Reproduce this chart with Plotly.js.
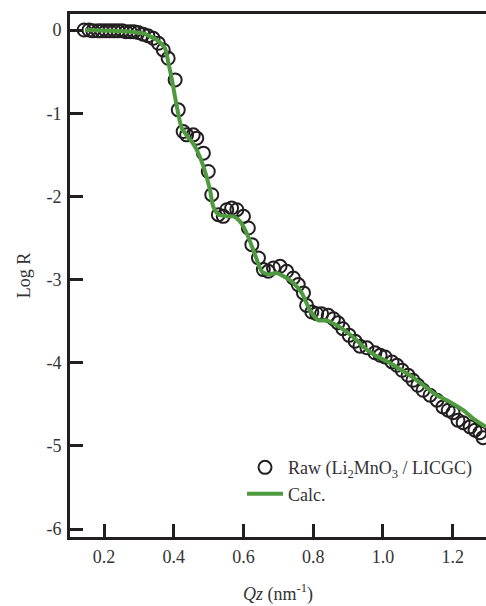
<!DOCTYPE html>
<html>
<head>
<meta charset="utf-8">
<script src="https://cdn.plot.ly/plotly-3.0.1.min.js"></script>
<style>html,body{margin:0;padding:0;background:#fff;}#chart{width:486px;height:606px;}</style>
</head>
<body>
<div id="chart"></div>
<script>
// Raw reflectivity data (Li2MnO3 / LICGC)
const rawQz = [0.143,0.157,0.168,0.183,0.194,0.206,0.217,0.229,0.240,0.252,0.263,0.275,0.286,0.298,0.312,0.326,
  0.341,0.356,0.370,0.384,0.404,0.413,0.427,0.437,0.456,0.466,0.485,0.499,0.509,0.528,0.542,0.552,0.566,0.581,
  0.600,0.614,0.624,0.643,0.657,0.671,0.686,0.705,0.724,0.743,0.757,0.772,0.781,0.796,0.810,0.824,0.843,0.858,
  0.871,0.885,0.903,0.920,0.934,0.954,0.977,0.992,1.006,1.026,1.040,1.055,1.072,1.086,1.100,1.115,1.135,1.155,
  1.172,1.187,1.201,1.215,1.230,1.250,1.264,1.278,1.287];
const rawLogR = [0.00,0.00,-0.01,-0.01,-0.01,-0.01,-0.01,-0.01,-0.01,-0.01,-0.02,-0.02,-0.02,-0.03,-0.05,-0.07,
  -0.10,-0.16,-0.24,-0.34,-0.60,-0.96,-1.22,-1.26,-1.26,-1.30,-1.48,-1.70,-1.98,-2.22,-2.24,-2.16,-2.14,-2.16,
  -2.24,-2.38,-2.58,-2.74,-2.88,-2.90,-2.86,-2.84,-2.90,-2.98,-3.06,-3.16,-3.31,-3.39,-3.41,-3.41,-3.43,-3.47,
  -3.52,-3.59,-3.67,-3.74,-3.80,-3.82,-3.88,-3.91,-3.93,-3.99,-4.03,-4.09,-4.15,-4.21,-4.27,-4.33,-4.39,-4.45,
  -4.53,-4.57,-4.60,-4.69,-4.72,-4.77,-4.81,-4.84,-4.90];

// Calculated curve
const calcQz = [0.146,0.275,0.313,0.351,0.375,0.384,0.394,0.408,0.423,0.451,0.466,0.485,0.504,0.513,0.528,0.552,
  0.571,0.590,0.609,0.633,0.652,0.671,0.695,0.719,0.743,0.767,0.791,0.815,0.839,0.867,0.896,0.925,0.944,0.977,
  1.006,1.039,1.077,1.116,1.154,1.192,1.230,1.259,1.295];
const calcLogR = [0.00,-0.02,-0.04,-0.12,-0.22,-0.38,-0.58,-0.90,-1.18,-1.34,-1.44,-1.64,-1.92,-2.12,-2.22,-2.24,
  -2.24,-2.30,-2.44,-2.70,-2.90,-2.94,-2.92,-2.97,-3.04,-3.16,-3.37,-3.49,-3.49,-3.55,-3.63,-3.73,-3.81,-3.91,
  -3.97,-4.05,-4.15,-4.27,-4.39,-4.47,-4.57,-4.67,-4.77];

const xTickVals = [0.2,0.4,0.6,0.8,1.0,1.2];
const xTickText = ['0.2','0.4','0.6','0.8','1.0','1.2'];
const yTickVals = [-6,-5,-4,-3,-2,-1,0];
const yTickText = ['-6','-5','-4','-3','-2','-1','0'];

const FONT = 'Liberation Serif, Times New Roman, serif';
const AX = '#231f20';
const TXT = '#333333';

const traces = [
  {
    x: rawQz, y: rawLogR, type: 'scatter', mode: 'markers',
    name: 'Raw (Li<sub>2</sub>MnO<sub>3</sub> / LICGC)',
    marker: {symbol: 'circle-open', size: 13, color: AX, line: {width: 2, color: AX}}
  },
  {
    x: calcQz, y: calcLogR, type: 'scatter', mode: 'lines',
    name: 'Calc.',
    line: {color: '#4e9a3f', width: 4, shape: 'spline', smoothing: 0.6}
  }
];

const layout = {
  width: 486, height: 606,
  margin: {l: 70, r: 0, t: 14, b: 69, pad: 0},
  paper_bgcolor: '#ffffff', plot_bgcolor: '#ffffff',
  font: {family: FONT, size: 18, color: TXT},
  showlegend: true,
  legend: {
    x: 0.4135, y: 0.168, xanchor: 'left', yanchor: 'top',
    bgcolor: 'rgba(0,0,0,0)', borderwidth: 0,
    itemwidth: 36,
    font: {family: FONT, size: 18, color: TXT},
    tracegroupgap: 0
  },
  xaxis: {
    range: [0.1025, 1.2955],
    tickvals: xTickVals, ticktext: xTickText,
    ticks: 'inside', ticklen: 13, tickwidth: 3, tickcolor: AX,
    ticklabelstandoff: 1,
    showline: true, linewidth: 3, linecolor: AX, mirror: true,
    showgrid: false, zeroline: false,
    tickfont: {family: FONT, size: 18, color: TXT},
    title: {text: '<i>Qz</i> (nm<sup>-1</sup>)', font: {family: FONT, size: 18, color: TXT}, standoff: 22}
  },
  yaxis: {
    range: [-6.094, 0.1923],
    tickvals: yTickVals, ticktext: yTickText,
    ticks: 'inside', ticklen: 13, tickwidth: 3, tickcolor: AX,
    ticklabelstandoff: 2,
    showline: true, linewidth: 3, linecolor: AX, mirror: false,
    showgrid: false, zeroline: false,
    tickfont: {family: FONT, size: 18, color: TXT},
    title: {text: 'Log R', font: {family: FONT, size: 18, color: TXT}, standoff: 12}
  }
};

Plotly.newPlot('chart', traces, layout, {displayModeBar: false, staticPlot: true});
</script>
</body>
</html>
